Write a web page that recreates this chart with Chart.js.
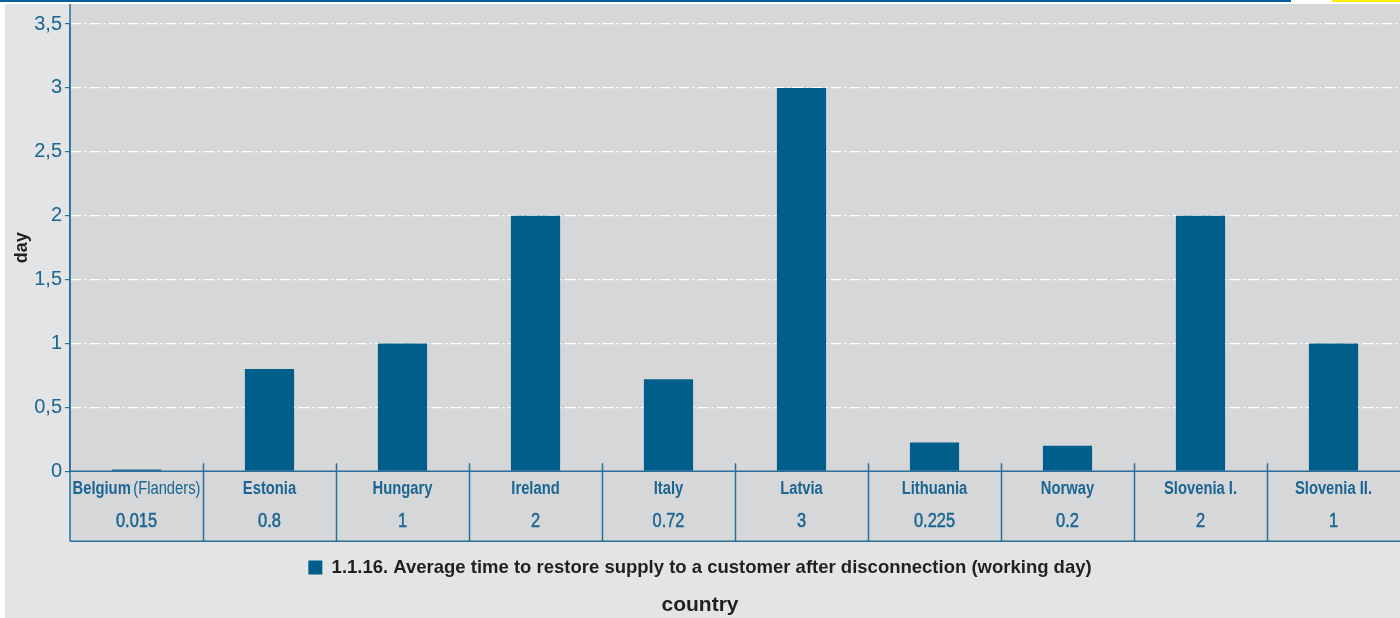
<!DOCTYPE html>
<html>
<head>
<meta charset="utf-8">
<script src="https://cdn.jsdelivr.net/npm/chart.js@4"></script>
<style>
  html, body { margin: 0; padding: 0; background: #fff; }
  #contenedor { width: 1400px; height: 618px; }
</style>
</head>
<body>
<div id="contenedor"><canvas id="myChart" width="1400" height="618"></canvas></div>
<script>
// Datos de la gráfica
const paises = ['Belgium (Flanders)', 'Estonia', 'Hungary', 'Ireland', 'Italy', 'Latvia', 'Lithuania', 'Norway', 'Slovenia I.', 'Slovenia II.'];
const dias = [0.015, 0.8, 1, 2, 0.72, 3, 0.225, 0.2, 2, 1];
const ticksY = [0, 0.5, 1, 1.5, 2, 2.5, 3, 3.5];
const nombreSerie = '1.1.16. Average time to restore supply to a customer after disconnection (working day)';

const AZUL = '#005e8b';
const AZUL_TEXTO = '#1b6592';
const AZUL_LINEA = '#2a6f9a';
const SANS = '"Liberation Sans", Arial, sans-serif';
const ESTRECHO = 0.82; // letra condensada para la tabla

// Fondo gris y franjas superiores
const fondo = {
  id: 'fondo',
  beforeDraw(chart) {
    const ctx = chart.ctx;
    const a = chart.chartArea;
    ctx.save();
    ctx.fillStyle = '#ffffff';
    ctx.fillRect(0, 0, chart.width, chart.height);
    ctx.fillStyle = '#e3e4e6';
    ctx.fillRect(5, 4, chart.width - 5, chart.height - 4);
    ctx.fillStyle = '#00629a';
    ctx.fillRect(0, 0, 1291, 2);
    ctx.fillStyle = '#fff000';
    ctx.fillRect(1332, 0, chart.width - 1332, 2);
    // área del gráfico + tabla
    ctx.fillStyle = '#d6d7d9';
    ctx.fillRect(a.left, 4, a.right - a.left, a.bottom + 70 - 4);
    ctx.restore();
  }
};

// Tabla de datos bajo el eje x
const tabla = {
  id: 'tabla',
  afterDraw(chart) {
    const ctx = chart.ctx;
    const a = chart.chartArea;
    const xs = chart.scales.x;
    const fondoTabla = a.bottom + 70;
    ctx.save();
    ctx.strokeStyle = AZUL_LINEA;
    ctx.lineWidth = 1.5;
    ctx.beginPath();
    // eje y hasta arriba y hasta el fondo de la tabla
    ctx.moveTo(a.left, 4);
    ctx.lineTo(a.left, fondoTabla);
    ctx.moveTo(a.left, a.bottom);
    ctx.lineTo(a.right, a.bottom);
    ctx.moveTo(a.left, fondoTabla);
    ctx.lineTo(a.right, fondoTabla);
    const ancho = (a.right - a.left) / paises.length;
    for (let i = 1; i < paises.length; i++) {
      const x = Math.round(a.left + ancho * i) + 0.5;
      ctx.moveTo(x, a.bottom - 8);
      ctx.lineTo(x, fondoTabla);
    }
    ctx.stroke();

    ctx.fillStyle = AZUL_TEXTO;
    ctx.textBaseline = 'middle';
    const negrita = 'bold 18px ' + SANS;
    const normal = '18px ' + SANS;
    paises.forEach((p, i) => {
      const x = xs.getPixelForValue(i);
      ctx.save();
      ctx.translate(x, 0);
      ctx.scale(ESTRECHO, 1);
      const partes = p.split(' (');
      if (partes.length > 1) {
        const resto = '(' + partes[1];
        ctx.font = negrita;
        const w1 = ctx.measureText(partes[0]).width + 3;
        ctx.font = normal;
        const w2 = ctx.measureText(resto).width;
        const x0 = -(w1 + w2) / 2;
        ctx.textAlign = 'left';
        ctx.font = negrita;
        ctx.fillText(partes[0], x0, a.bottom + 18);
        ctx.font = normal;
        ctx.fillText(resto, x0 + w1, a.bottom + 18);
      } else {
        ctx.textAlign = 'center';
        ctx.font = negrita;
        ctx.fillText(p, 0, a.bottom + 18);
      }
      // valor de la fila inferior, un poco más grueso
      ctx.textAlign = 'center';
      ctx.font = '20px ' + SANS;
      ctx.strokeStyle = AZUL_TEXTO;
      ctx.lineWidth = 0.5;
      ctx.fillText(String(dias[i]), 0, a.bottom + 50);
      ctx.strokeText(String(dias[i]), 0, a.bottom + 50);
      ctx.restore();
    });
    ctx.restore();
  }
};

const ctx = document.getElementById('myChart');
new Chart(ctx, {
  type: 'bar',
  data: {
    labels: paises,
    datasets: [{
      label: nombreSerie,
      data: dias,
      backgroundColor: AZUL,
      borderWidth: 0,
      barPercentage: 0.37,
      categoryPercentage: 1
    }]
  },
  options: {
    responsive: false,
    devicePixelRatio: 1,
    animation: false,
    layout: { padding: { top: 24, left: 0, right: 0, bottom: 0 } },
    plugins: {
      tooltip: { enabled: false },
      legend: {
        position: 'bottom',
        labels: {
          boxWidth: 14,
          boxHeight: 14,
          padding: 10,
          color: '#231f20',
          font: { family: SANS, size: 18.5, weight: 'bold' }
        }
      },
      title: {
        display: true,
        position: 'bottom',
        text: 'country',
        color: '#231f20',
        font: { family: SANS, size: 21, weight: 'bold' },
        padding: { top: 6, bottom: 0 }
      }
    },
    scales: {
      x: {
        ticks: { display: false },
        grid: { display: false },
        border: { display: false },
        afterFit(scale) { scale.height = 77; }
      },
      y: {
        min: 0,
        max: 3.5,
        afterBuildTicks(scale) { scale.ticks = ticksY.map(v => ({ value: v })); },
        afterFit(scale) { scale.width = 70; },
        ticks: {
          color: AZUL_TEXTO,
          padding: 3,
          font: { family: SANS, size: 20 },
          callback: v => String(v).replace('.', ',')
        },
        grid: {
          color: c => (c.tick && c.tick.value === 0) ? 'rgba(0,0,0,0)' : '#ffffff',
          tickColor: AZUL_LINEA,
          tickLength: 5,
          lineWidth: 1.2
        },
        border: { color: AZUL_LINEA, width: 1.5, dash: [11, 3, 2, 3] },
        title: {
          display: true,
          text: 'day',
          color: '#231f20',
          font: { family: SANS, size: 18, weight: 'bold' },
          padding: { top: 11, bottom: 0 }
        }
      }
    }
  },
  plugins: [fondo, tabla]
});
</script>
</body>
</html>
